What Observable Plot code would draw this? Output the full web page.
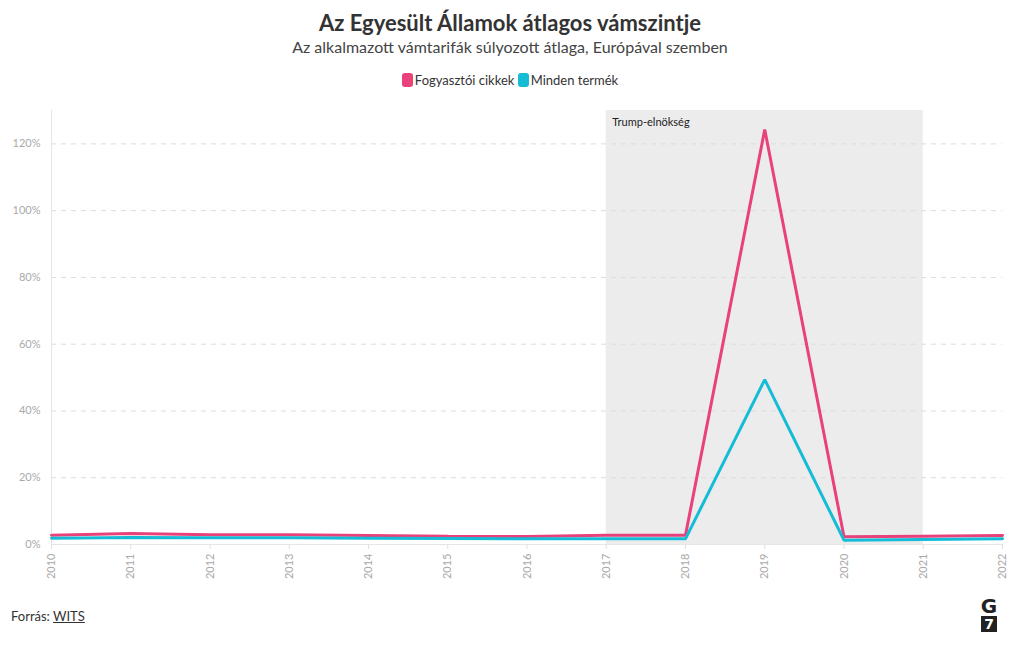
<!DOCTYPE html>
<html>
<head>
<meta charset="utf-8">
<script src="https://cdn.jsdelivr.net/npm/d3@7"></script>
<script src="https://cdn.jsdelivr.net/npm/@observablehq/plot@0.6"></script>
<style>
  body { margin: 0; background: #fff; font-family: Lato, "Noto Sans", sans-serif; width: 1020px; height: 650px; position: relative; overflow: hidden; }
  .title { position: absolute; top: 9px; left: 0; width: 1020px; text-align: center; font-size: 22px; font-weight: 700; color: #333; }
  .subtitle { position: absolute; top: 37px; left: 0; width: 1020px; text-align: center; font-size: 16px; color: #444; }
  .legend { position: absolute; top: 72px; left: 0; width: 1020px; text-align: center; font-size: 13px; color: #333; }
  .legend span.sw { display: inline-block; width: 11px; height: 14px; border-radius: 3px; vertical-align: -2px; margin-right: 2px; }
  .legend span.item { margin: 0; }
  #chart { position: absolute; top: 100px; left: 0; }
  .source { position: absolute; top: 608px; left: 11px; font-size: 13px; color: #333; }
  .source u { text-decoration: underline; }
  .logo { position: absolute; top: 597px; left: 980px; width: 18px; text-align: center; font-family: "DejaVu Sans", sans-serif; }
  .logo .g { font-size: 20px; font-weight: 700; line-height: 18px; color: #222; }
  .logo .s { background: #222; color: #fff; font-size: 14px; font-weight: 700; line-height: 16px; height: 16px; width: 16px; margin: 1px auto 0; }
</style>
</head>
<body>
<div class="title">Az Egyesült Államok átlagos vámszintje</div>
<div class="subtitle">Az alkalmazott vámtarifák súlyozott átlaga, Európával szemben</div>
<div class="legend" id="legend"></div>
<div id="chart"></div>
<div class="source">Forrás: <u>WITS</u></div>
<div class="logo"><div class="g">G</div><div class="s">7</div></div>
<script>
const years = [2010, 2011, 2012, 2013, 2014, 2015, 2016, 2017, 2018, 2019, 2020, 2021, 2022];
const consumerGoods = [2.8, 3.3, 2.9, 2.9, 2.7, 2.5, 2.4, 2.8, 2.8, 124.3, 2.3, 2.5, 2.7];
const allProducts = [1.9, 2.1, 2.0, 2.0, 1.9, 1.8, 1.7, 1.7, 1.7, 49.4, 1.3, 1.5, 1.7];
const seriesNames = ["Fogyasztói cikkek", "Minden termék"];
const seriesColors = ["#e8417b", "#14bcd6"];
const yTicks = [0, 20, 40, 60, 80, 100, 120];
const trumpStart = 2017, trumpEnd = 2021;
const trumpLabel = "Trump-elnökség";

const legend = document.getElementById("legend");
legend.innerHTML = seriesNames.map((n, i) =>
  `<span class="item"><span class="sw" style="background:${seriesColors[i]}"></span>${n}</span>`).join(" ");

const data = [];
years.forEach((y, i) => {
  data.push({year: y, value: consumerGoods[i], series: seriesNames[0]});
  data.push({year: y, value: allProducts[i], series: seriesNames[1]});
});

const chart = Plot.plot({
  width: 1020,
  height: 490,
  marginTop: 10,
  marginLeft: 51,
  marginRight: 18,
  marginBottom: 46,
  style: {fontFamily: "Lato, 'Noto Sans', sans-serif", fontSize: "11px", background: "transparent"},
  x: {domain: [2010, 2022], label: null},
  y: {domain: [0, 130], label: null},
  color: {domain: seriesNames, range: seriesColors},
  marks: [
    Plot.rect([{x1: trumpStart, x2: trumpEnd}], {x1: "x1", x2: "x2", y1: 0, y2: 130, fill: "#ececec"}),
    Plot.gridY(yTicks.filter(d => d > 0), {stroke: "#dcdcdc", strokeOpacity: 1, strokeDasharray: "5,5"}),
    Plot.ruleY([0], {stroke: "#e6e6e6"}),
    Plot.ruleX([2010], {stroke: "#e6e6e6"}),
    Plot.axisY({ticks: yTicks, tickSize: 0, tickPadding: 11, tickFormat: d => d + "%", color: "#a9a9a9", fontSize: 11, label: null}),
    Plot.axisX({ticks: years, tickFormat: d => String(d), tickRotate: -90, tickSize: 5, tickPadding: 4, stroke: "#e0e0e0", color: "#a9a9a9", fill: "#a9a9a9", fontSize: 11, label: null}),
    Plot.text([trumpLabel], {x: trumpStart, y: 130, text: d => d, textAnchor: "start", dx: 6, dy: 12, fill: "#222", fontSize: 11}),
    Plot.line(data, {x: "year", y: "value", z: "series", stroke: "series", strokeWidth: 3, strokeLinejoin: "miter"})
  ]
});
document.getElementById("chart").appendChild(chart);
</script>
</body>
</html>
